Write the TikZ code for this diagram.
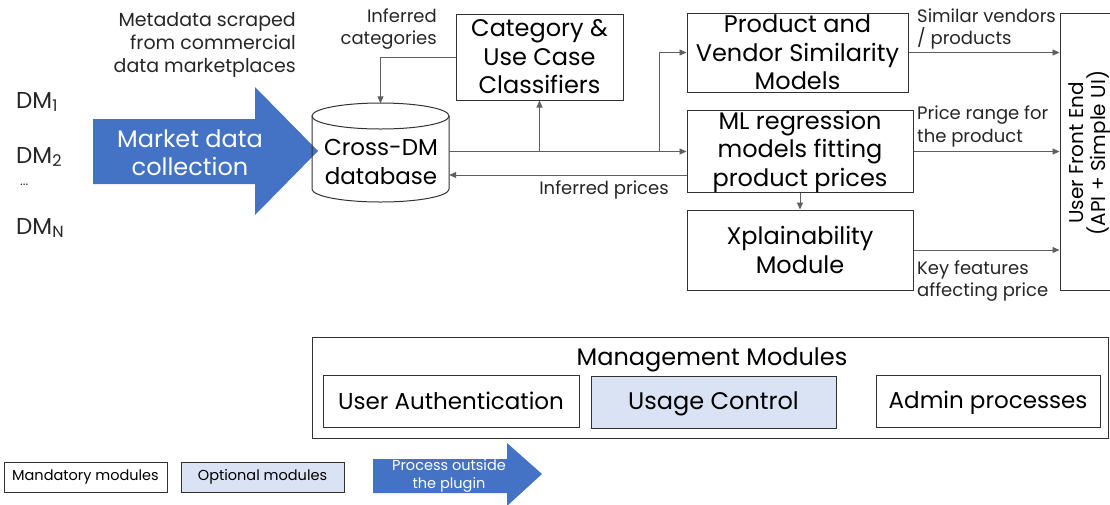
\documentclass[tikz,border=0pt]{standalone}
\usepackage{fontspec}
\setmainfont{Poppins}
\definecolor{plugblue}{RGB}{68,114,196}
\definecolor{optfill}{RGB}{218,227,243}
\definecolor{edge}{RGB}{50,50,50}
\definecolor{wire}{RGB}{95,95,95}
\usetikzlibrary{arrows.meta,positioning}

\tikzset{
  box/.style={draw=edge, line width=1pt, align=center, inner sep=0pt,
    font=\fontsize{24}{28.5}\selectfont},
  lbl/.style={text=black!85, font=\fontsize{18}{22.5}\selectfont, inner sep=0pt},
  wire/.style={draw=wire, line width=0.9pt, -{Triangle[length=7pt,width=6pt]}},
  legbox/.style={draw=edge, line width=1pt, minimum width=163pt, minimum height=30pt,
    font=\fontsize{14.5}{16}\selectfont},
}

\begin{document}
\begin{tikzpicture}[x=1pt, y=-1pt]
        \useasboundingbox (0,0) rectangle (1110,504);
        % sources and the collection step
        \node[lbl, font=\fontsize{23}{26}\selectfont, anchor=west] (dm1) at (16,102) {DM\textsubscript{1}};
        \node[lbl, font=\fontsize{23}{26}\selectfont, anchor=west] (dm2) at (16,157) {DM\textsubscript{2}};
        \node[lbl, font=\fontsize{13}{14}\selectfont, anchor=west] (dmdots) at (20,185) {...};
        \node[lbl, font=\fontsize{23}{26}\selectfont, anchor=west] (dmn) at (16,228) {DM\textsubscript{N}};
        \node[lbl, align=right, anchor=east, font=\fontsize{19}{23}\selectfont] (meta) at (296,45) {Metadata scraped\\from commercial\\data marketplaces};
        \fill[plugblue] (93,119) -- (255,119) -- (255,87) -- (318,151) -- (255,215) -- (255,184) -- (93,184) -- cycle;
        \node[align=center, text=white, font=\fontsize{24}{28}\selectfont] (collect) at (190,153) {Market data\\collection};

        % database
        \node[minimum width=137pt, minimum height=99pt] (db) at (380.5,153) {};
        \draw[edge, line width=1pt] (312,116) -- (312,189) arc[start angle=180, end angle=0, x radius=68.5, y radius=13] -- (449,116);
        \draw[edge, line width=1pt] (380.5,116) ellipse[x radius=68.5, y radius=13];
        \node[align=center, font=\fontsize{23}{29}\selectfont] (dbtext) at (381,162) {Cross-DM\\database};

        % modules
        \node[box, minimum width=167pt, minimum height=86pt] (cat) at (539.5,57) {Category \&\\Use Case\\Classifiers};
        \node[box, minimum width=221pt, minimum height=79pt] (sim) at (797.5,52.5) {Product and\\Vendor Similarity\\Models};
        \node[box, minimum width=226pt, minimum height=81pt] (reg) at (800,151.5) {ML regression\\models fitting\\product prices};
        \node[box, minimum width=226pt, minimum height=80pt] (xpl) at (800,250) {Xplainability\\Module};
        \node[box, minimum width=58pt, minimum height=277pt] (fe) at (1089,151.5) {};
        \node[rotate=90, align=center, font=\fontsize{20}{21.5}\selectfont] (fetext) at (1089.5,153) {User Front End\\(API + Simple UI)};

        % data flow
        \draw[wire] (cat.west) -| (db.north);
        \draw[wire] (reg.west -| db.east) -- (reg.west);
        \draw[wire] (cat.south |- reg.west) -- (cat.south);
        \path (reg.west) ++(-27,0) coordinate (fork);
        \draw[wire] (fork) |- (sim.west);
        \draw[wire] (reg.west) ++(0,23.5) coordinate (back) -- (back -| db.east);
        \draw[wire] (reg.south) -- (xpl.north);
        \draw[wire] (sim.east) -- (sim.east -| fe.west);
        \draw[wire] (reg.east) -- (reg.east -| fe.west);
        \draw[wire] (xpl.east) -- (xpl.east -| fe.west);

        \node[lbl, align=right, anchor=east] (lcat) at (437,29) {Inferred\\categories};
        \node[lbl] (lprice) at (604,190) {Inferred prices};
        \node[lbl, align=left, anchor=west] (lsim) at (917,29) {Similar vendors\\/ products};
        \node[lbl, align=left, anchor=west] (lrange) at (917,126.5) {Price range for\\the product};
        \node[lbl, align=left, anchor=west] (lkey) at (917,281) {Key features\\affecting price};

        % management modules
        \node[draw=edge, line width=1pt, minimum width=796pt, minimum height=101pt] (mgmt) at (710,387.5) {};
        \node[font=\fontsize{24}{28}\selectfont] (mtitle) at (712,360) {Management Modules};
        \node[box, font=\fontsize{23}{28}\selectfont, minimum width=256pt, minimum height=52pt] (auth) at (451,401) {User Authentication};
        \node[box, fill=optfill, minimum width=245pt, minimum height=52pt, text depth=3pt] (usage) at (713.5,402) {Usage Control};
        \node[box, font=\fontsize{23}{28}\selectfont, minimum width=224pt, minimum height=52pt, text depth=3pt] (admin) at (988,401) {Admin processes};

        % legend
        \node[legbox] (lmand) at (85.5,477) {Mandatory modules};
        \node[legbox, fill=optfill] (lopt) at (262.5,477) {Optional modules};
        \fill[plugblue] (373,459) -- (507,459) -- (507,443) -- (542,474) -- (507,506) -- (507,493) -- (373,493) -- cycle;
        \node[align=center, text=white, font=\fontsize{14.5}{18}\selectfont] (lproc) at (449,476) {Process outside\\the plugin};
\end{tikzpicture}
\end{document}
